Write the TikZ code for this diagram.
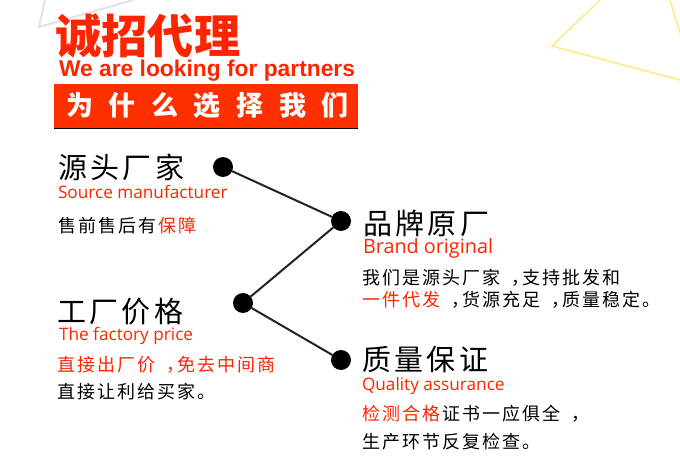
\documentclass[tikz,border=0pt]{standalone}
\usepackage{fontspec}
\setmainfont{Liberation Sans}
\newfontfamily\cjk{Noto Sans CJK SC}
\newfontfamily\cjkhead[LetterSpace=12]{Noto Sans CJK SC}
\newfontfamily\cjkbar[LetterSpace=58]{Noto Sans CJK SC}
\newfontfamily\cjkbody[LetterSpace=11.5]{Noto Sans CJK SC}
\newfontfamily\latin{Open Sans}
\definecolor{redtxt}{HTML}{FF2400}
\definecolor{barred}{HTML}{FF2F00}
\definecolor{ink}{HTML}{222222}
\definecolor{pale}{HTML}{FFE888}
\definecolor{palegray}{HTML}{E2E2E2}
\newcommand{\fs}[1]{\fontsize{#1}{#1}\selectfont}
\newcommand{\rs}{\kern2.07pt}
\newcommand{\cm}{\kern11pt{\cjk ，}\kern-6.9pt}
\tikzset{
  txt/.style={anchor=base west,inner sep=0pt,outer sep=0pt},
  dot/.style={circle,fill=black,minimum size=20pt,inner sep=0pt,outer sep=0pt},
  link/.style={draw=ink,line width=2pt},
  head/.style={txt,text=black,font=\cjkhead\fs{29}},
  eng/.style={txt,text=redtxt,font=\latin\fs{17.2}},
  body/.style={txt,text=black,font=\cjkbody\fs{18}},
}
\begin{document}
\begin{tikzpicture}[x=1pt,y=-1pt]
\useasboundingbox (0,0) rectangle (680,465);
\draw[draw=palegray,line width=2pt] (45,0) -- (39,27) -- (133,0);
\draw[draw=pale,line width=1.5pt] (600,0) -- (552,46) -- (680,80);
\draw[draw=pale,line width=1.5pt] (670,0) -- (680,33);

\node[txt,text=redtxt,font=\cjk\bfseries\fs{46.2}] (title) at (55.5,54) {诚招代理};
\node[txt,text=redtxt,font=\bfseries\fs{22.8}] (titleen) at (59,77) {We are looking for partners};
\fill[barred] (54,84) rectangle (358,128);
\draw[black,line width=1pt] (54,128.5) -- (358,128.5);
\node[txt,text=white,font=\cjkbar\bfseries\fs{27}] (bar) at (66,116) {为什么选择我们};

\node[dot] (a) at (223,167) {};
\node[dot] (b) at (341,221) {};
\node[dot] (c) at (243,303) {};
\node[dot] (d) at (341,360) {};
\draw[link] (a) -- (b);
\draw[link] (b) -- (c);
\draw[link] (c) -- (d);

\node[head] (h1) at (58,179) {源头厂家};
\node[eng] (e1) at (58,199) {Source manufacturer};
\node[body] (s1) at (58,233) {售前售后有\rs\textcolor{redtxt}{保障}};

\node[head] (h2) at (363,234) {品牌原厂};
\node[eng,font=\latin\fs{19.8}] (e2) at (363,254) {Brand original};
\node[body] (s2a) at (362,284) {我们是源头厂家\cm 支持批发和};
\node[body] (s2b) at (362,306) {\textcolor{redtxt}{一件代发}\cm 货源充足\cm 质量稳定。};

\node[head] (h3) at (57,322) {工厂价格};
\node[eng] (e3) at (59,340) {The factory price};
\node[body] (s3a) at (57,371) {\textcolor{redtxt}{直接出厂价\cm 免去中间商}};
\node[body] (s3b) at (57,398) {直接让利给买家。};

\node[head] (h4) at (362,370) {质量保证};
\node[eng] (e4) at (362,390) {Quality assurance};
\node[body] (s4a) at (362,420) {\textcolor{redtxt}{检测合格}\rs 证书一应俱全\cm};
\node[body] (s4b) at (362,448) {生产环节反复检查。};
\end{tikzpicture}
\end{document}
